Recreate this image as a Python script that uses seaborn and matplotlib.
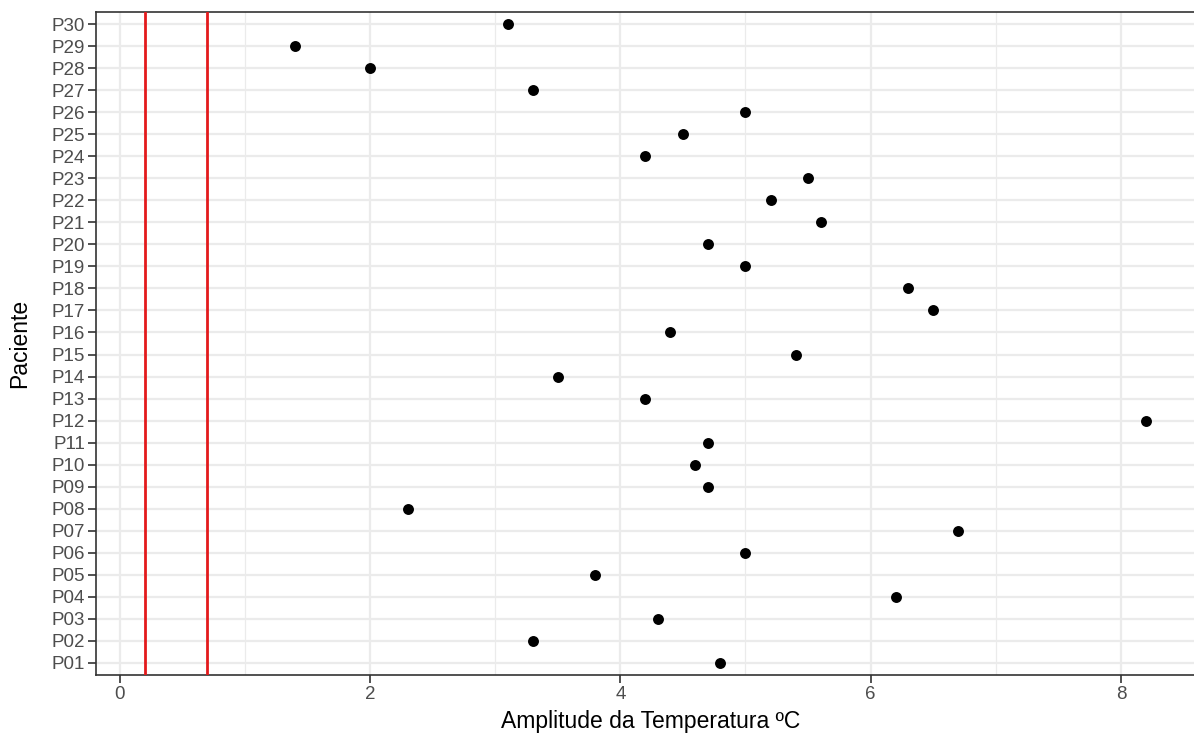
import matplotlib
matplotlib.use("Agg")
import matplotlib.pyplot as plt
import seaborn as sns
import pandas as pd
from matplotlib.ticker import MultipleLocator

pacientes = [f"P{i:02d}" for i in range(1, 31)]
amplitude = [4.8, 3.3, 4.3, 6.2, 3.8, 5.0, 6.7, 2.3, 4.7, 4.6,
             4.7, 8.2, 4.2, 3.5, 5.4, 4.4, 6.5, 6.3, 5.0, 4.7,
             5.6, 5.2, 5.5, 4.2, 4.5, 5.0, 3.3, 2.0, 1.4, 3.1]
linhas_ref = [0.2, 0.7]

df = pd.DataFrame({"Paciente": pacientes, "Amplitude": amplitude})

sns.set_theme(style="white")
plt.rcParams["font.family"] = ["Liberation Sans", "DejaVu Sans"]

fig = plt.figure(figsize=(11.94, 7.34), dpi=100)
ax = fig.add_axes([96/1194, 1-675/734, 1110/1194, (675-12)/734])

sns.scatterplot(data=df, x="Amplitude", y="Paciente", color="black", s=62,
                edgecolor="black", linewidth=0, ax=ax, zorder=4)
for v in linhas_ref:
    ax.axvline(v, color="#e31a1c", lw=2, zorder=3)

ax.set_xlim(-0.19, 8.68)
ax.set_ylim(-0.55, 29.55)
ax.xaxis.set_major_locator(MultipleLocator(2))
ax.xaxis.set_minor_locator(MultipleLocator(1))
ax.grid(True, which="major", color="#ebebeb", lw=1.6, zorder=0)
ax.grid(True, which="minor", axis="x", color="#ebebeb", lw=0.9, zorder=0)
ax.set_axisbelow(True)

for sp in ax.spines.values():
    sp.set_color("#333333")
    sp.set_linewidth(1.2)

ax.tick_params(axis="both", which="major", length=6, width=1.2, color="#333333",
               labelsize=13.5, labelcolor="#4d4d4d", left=True, bottom=True, pad=2)
ax.tick_params(axis="both", which="minor", length=0)
ax.set_xlabel("Amplitude da Temperatura ºC", fontsize=16.5, color="black", labelpad=5)
ax.set_ylabel("Paciente", fontsize=16.5, color="black")
ax.yaxis.set_label_coords(-0.058, 0.5)

fig.savefig("out.png", dpi=100)
